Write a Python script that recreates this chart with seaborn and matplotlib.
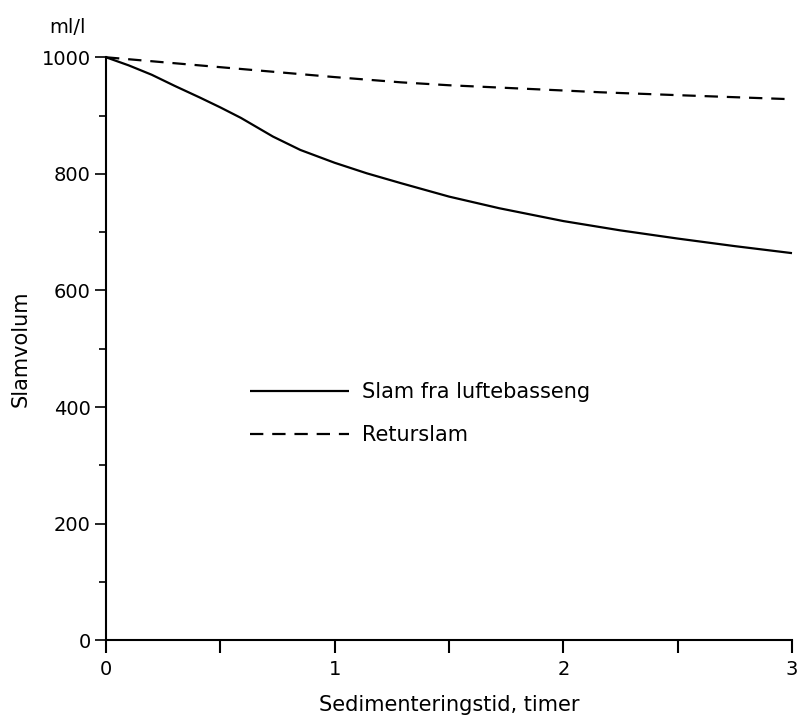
import pandas as pd
import matplotlib
matplotlib.use("Agg")
import matplotlib.pyplot as plt
import seaborn as sns
from matplotlib.ticker import MultipleLocator

# Verdier lest av figuren
tid_slam = [0, 0.1, 0.2, 0.3, 0.41, 0.5, 0.59, 0.66, 0.73, 0.85, 1.0, 1.14, 1.29,
            1.5, 1.72, 2.0, 2.25, 2.5, 2.75, 3.0]
vol_slam = [1000, 986, 970, 951, 931, 914, 896, 880, 864, 841, 819, 801, 784,
            761, 741, 719, 703, 689, 676, 664]

tid_retur = [0, 0.5, 1.0, 1.29, 1.5, 2.0, 2.16, 2.5, 3.0]
vol_retur = [1000, 983, 966, 957, 952, 943, 940, 935, 928]

serie_navn = ["Slam fra luftebasseng", "Returslam"]

df = pd.concat([
    pd.DataFrame({"tid": tid_slam, "volum": vol_slam, "serie": serie_navn[0]}),
    pd.DataFrame({"tid": tid_retur, "volum": vol_retur, "serie": serie_navn[1]}),
])

sns.set_style("ticks")
plt.rcParams["font.family"] = ["DejaVu Sans"]
plt.rcParams["text.color"] = "black"
plt.rcParams["axes.labelcolor"] = "black"
plt.rcParams["xtick.color"] = "black"
plt.rcParams["ytick.color"] = "black"
plt.rcParams["axes.edgecolor"] = "black"

fig = plt.figure(figsize=(8, 7.25), dpi=100)
ax = fig.add_axes([0.1325, 0.117, 0.8575, 0.804])

sns.lineplot(data=df, x="tid", y="volum", hue="serie", style="serie",
             palette=["black", "black"], dashes=[(1, 0), (6, 4)],
             linewidth=1.6, ax=ax, sort=False, clip_on=False)

ax.set_xlim(0, 3)
ax.set_ylim(0, 1000)
ax.xaxis.set_major_locator(MultipleLocator(1))
ax.xaxis.set_minor_locator(MultipleLocator(0.5))
ax.yaxis.set_major_locator(MultipleLocator(200))
ax.yaxis.set_minor_locator(MultipleLocator(100))
ax.tick_params(axis="x", which="both", length=9, width=1.5, labelsize=14, pad=5)
ax.tick_params(axis="y", which="major", length=8, width=1.2, labelsize=14, pad=3)
ax.tick_params(axis="y", which="minor", length=5, width=1.2)
sns.despine(ax=ax)
for s in ["left", "bottom"]:
    ax.spines[s].set_linewidth(1.5)

ax.set_xlabel("Sedimenteringstid, timer", fontsize=15, labelpad=12)
ax.set_ylabel("Slamvolum", fontsize=15, labelpad=8)
ax.text(-0.03, 1.035, "ml/l", transform=ax.transAxes, fontsize=14,
        ha="right", va="bottom")

leg = ax.legend(title=None, frameon=False, fontsize=15, handlelength=4.75,
                handletextpad=0.6, labelspacing=1.1,
                loc="upper left", bbox_to_anchor=(0.183, 0.475))

fig.savefig("out.png", dpi=100)
